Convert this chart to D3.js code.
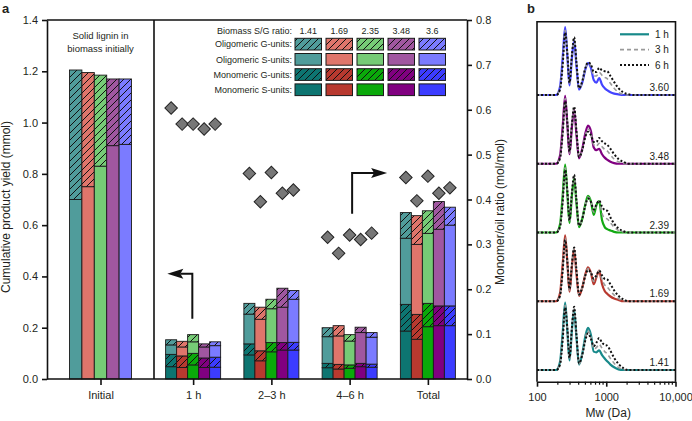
<!DOCTYPE html>
<html><head><meta charset="utf-8">
<script src="https://cdn.jsdelivr.net/npm/d3@7"></script>
<style>
body{margin:0;background:#fff}
svg{display:block}
text{font-family:"Liberation Sans",Arial,Helvetica,sans-serif;fill:#231f20}
</style>
</head><body>
<svg id="c" width="692" height="421"></svg>
<script>
// ---------------- DATA (panel a) ----------------
const groups = ["1 h", "2–3 h", "4–6 h", "Total"];
const sgRatios = ["1.41", "1.69", "2.35", "3.48", "3.6"];
const legendRows = ["Oligomeric G-units:", "Oligomeric S-units:", "Monomeric G-units:", "Monomeric S-units:"];
const lightColors = ["#509c9b", "#df756b", "#76cb76", "#a057a0", "#7b7bff"];
const darkColors  = ["#0d7571", "#b8392f", "#0aa90a", "#800080", "#3c3cff"];
// Initial solid lignin (mmol): S-units (solid) and G-units (hatched)
const initialS = [0.700, 0.750, 0.830, 0.910, 0.915];
const initialG = [0.505, 0.445, 0.355, 0.260, 0.255];
// per group (1 h, 2–3 h, 4–6 h, Total), per S/G sample
const monoS = [
  [0.048, 0.045, 0.055, 0.045, 0.046],
  [0.094, 0.071, 0.106, 0.113, 0.113],
  [0.044, 0.039, 0.042, 0.048, 0.046],
  [0.187, 0.155, 0.204, 0.208, 0.208]
];
const monoG = [
  [0.048, 0.045, 0.045, 0.037, 0.039],
  [0.043, 0.039, 0.036, 0.029, 0.030],
  [0.017, 0.018, 0.013, 0.013, 0.012],
  [0.104, 0.097, 0.091, 0.077, 0.077]
];
const oligoS = [
  [0.037, 0.035, 0.045, 0.043, 0.045],
  [0.116, 0.123, 0.132, 0.138, 0.168],
  [0.104, 0.111, 0.093, 0.120, 0.105],
  [0.258, 0.273, 0.273, 0.299, 0.315]
];
const oligoG = [
  [0.020, 0.022, 0.028, 0.012, 0.015],
  [0.042, 0.047, 0.037, 0.074, 0.034],
  [0.035, 0.040, 0.025, 0.021, 0.018],
  [0.100, 0.112, 0.088, 0.108, 0.070]
];
const monomerOilRatio = [
  [0.604, 0.568, 0.568, 0.557, 0.568],
  [0.458, 0.395, 0.460, 0.414, 0.421],
  [0.316, 0.280, 0.321, 0.311, 0.325],
  [0.449, 0.397, 0.452, 0.414, 0.426]
];
const yLeftTicks = [0, 0.2, 0.4, 0.6, 0.8, 1.0, 1.2, 1.4];
const yRightTicks = [0, 0.1, 0.2, 0.3, 0.4, 0.5, 0.6, 0.7, 0.8];

// ---------------- DATA (panel b) ----------------
const gpcLabels = ["1.41", "1.69", "2.39", "3.48", "3.60"];   // bottom to top
const gpcColors = ["#17898a", "#b8392f", "#14a914", "#800080", "#4444ff"];
const timeLabels = ["1 h", "3 h", "6 h"];
const mwTicks = [100, 1000, 10000];
const mwMinor = [200,300,400,500,600,700,800,900,2000,3000,4000,5000,6000,7000,8000,9000];
const mw = [100,190,215,235,255,275,295,320,344,370,405,450,500,545,600,660,720,790,870,950,1030,1150,1300,1500,1750,2100,2600,10000];
const gpc1h = [
  [0,0,12,55,99,55,14,60,88,50,8,24,50,62,52,27,26,29,22,17,13,8,4,1,0,0,0,0],
  [0,0,12,55,97,55,14,52,76,42,8,20,40,50,42,25,35,45,25,15,11,7,4,2,0,0,0,0],
  [0,0,12,55,100,55,14,55,80,45,8,20,42,54,46,26,40,46,18,8,5,3,1,0,0,0,0,0],
  [0,0,12,55,100,55,14,55,80,45,8,22,45,56,48,24,20,22,14,9,6,3,1,0,0,0,0,0],
  [0,0,12,55,100,55,14,55,80,45,8,18,38,47,40,22,18,25,15,10,7,4,2,1,0,0,0,0]
];
const gpc3h = [
  [0,0,10,50,95,58,16,62,90,52,9,23,47,58,49,31,33,38,32,27,24,17,10,4,1,0,0,0],
  [0,0,10,50,93,56,16,54,78,45,9,20,39,48,42,29,36,45,32,24,21,15,9,4,1,0,0,0],
  [0,0,10,50,95,58,16,58,83,48,9,20,41,52,46,30,40,46,28,21,20,14,8,3,1,0,0,0],
  [0,0,10,50,96,58,16,58,82,48,9,21,42,51,45,28,26,30,25,21,19,13,7,3,1,0,0,0],
  [0,0,10,50,95,58,16,58,83,48,9,19,39,48,43,28,28,33,29,26,24,17,10,4,1,0,0,0]
];
const gpc6h = [
  [0,0,8,45,92,60,18,64,93,54,10,22,44,54,46,35,40,47,40,37,36,28,18,9,3,0,0,0],
  [0,0,8,45,90,58,18,56,79,48,10,20,38,46,42,33,38,45,38,33,32,25,16,8,3,0,0,0],
  [0,0,8,45,92,60,18,60,85,50,10,20,40,50,45,34,41,47,38,33,32,22,13,6,2,0,0,0],
  [0,0,8,45,92,60,18,60,84,50,10,20,40,47,42,32,32,38,33,30,28,22,14,7,3,0,0,0],
  [0,0,8,45,92,60,18,60,85,50,10,20,40,48,45,34,34,40,36,35,35,28,19,10,4,1,0,0]
];

// ---------------- DRAW ----------------
const svg = d3.select("#c");
const defs = svg.append("defs");
function hatch(id, color) {
  const p = defs.append("pattern").attr("id", id)
    .attr("patternUnits", "userSpaceOnUse").attr("width", 7).attr("height", 7);
  p.append("rect").attr("width", 7).attr("height", 7).attr("fill", color);
  p.append("path").attr("d", "M-1,1 l2,-2 M0,7 l7,-7 M6,8 l2,-2")
    .attr("stroke", "#111").attr("stroke-width", 1);
}
lightColors.forEach((c, i) => hatch("hL" + i, c));
darkColors.forEach((c, i) => hatch("hD" + i, c));

const L = 47, R = 467, T = 20, B = 379, DIV = 154;
const yL = d3.scaleLinear().domain([0, 1.4]).range([B, T]);
const yR = d3.scaleLinear().domain([0, 0.8]).range([B, T]);
const xInit = d3.scalePoint().domain(["Initial"]).range([L, DIV]).padding(0.5);
const xGrp = d3.scalePoint().domain(groups).range([DIV, R]).padding(0.5);
const xInitSub = d3.scaleBand().domain(d3.range(5)).range([-31, 31]);
const xSub = d3.scaleBand().domain(d3.range(5)).range([-27.5, 27.5]);

const gA = svg.append("g");
const strokeC = "#1a1a1a";

// Initial bars
const gInit = gA.append("g");
d3.range(5).forEach(i => {
  const x = xInit("Initial") + xInitSub(i), w = xInitSub.bandwidth();
  gInit.append("rect").attr("x", x).attr("width", w)
    .attr("y", yL(initialS[i])).attr("height", yL(0) - yL(initialS[i]))
    .attr("fill", lightColors[i]).attr("stroke", strokeC).attr("stroke-width", 0.9);
  gInit.append("rect").attr("x", x).attr("width", w)
    .attr("y", yL(initialS[i] + initialG[i])).attr("height", yL(initialS[i]) - yL(initialS[i] + initialG[i]))
    .attr("fill", `url(#hL${i})`).attr("stroke", strokeC).attr("stroke-width", 0.9);
});

// time-group stacked bars
const keys = ["monoS", "monoG", "oligoS", "oligoG"];
const rows = [];
groups.forEach((g, gi) => d3.range(5).forEach(i => rows.push({
  g, i, monoS: monoS[gi][i], monoG: monoG[gi][i], oligoS: oligoS[gi][i], oligoG: oligoG[gi][i]
})));
const stacked = d3.stack().keys(keys)(rows);
const fillFor = (k, i) => k === "monoS" ? darkColors[i] : k === "monoG" ? `url(#hD${i})`
  : k === "oligoS" ? lightColors[i] : `url(#hL${i})`;
const gBars = gA.append("g");
stacked.forEach(layer => {
  gBars.selectAll(null).data(layer).join("rect")
    .attr("x", d => xGrp(d.data.g) + xSub(d.data.i))
    .attr("width", xSub.bandwidth())
    .attr("y", d => yL(d[1]))
    .attr("height", d => yL(d[0]) - yL(d[1]))
    .attr("fill", d => fillFor(layer.key, d.data.i))
    .attr("stroke", strokeC).attr("stroke-width", 0.9);
});

// diamonds (right axis)
const diamond = d3.symbol(d3.symbolSquare, 78);
const dPts = [];
groups.forEach((g, gi) => d3.range(5).forEach(i => dPts.push({ g, i, v: monomerOilRatio[gi][i] })));
gA.append("g").selectAll("path").data(dPts).join("path")
  .attr("d", diamond)
  .attr("transform", d => `translate(${xGrp(d.g) + xSub(d.i) + xSub.bandwidth() / 2},${yR(d.v)}) rotate(45)`)
  .attr("fill", "#777").attr("stroke", "#222").attr("stroke-width", 1);

// arrows
function arrow(x0, yBottom, yTop, dir, len) {
  const g = gA.append("g");
  const tip = x0 + dir * len, base = tip - dir * 16;
  g.append("path").attr("d", `M${x0},${yBottom}V${yTop}H${base + dir * 3}`)
    .attr("fill", "none").attr("stroke", "#111").attr("stroke-width", 2);
  g.append("path").attr("d", `M${tip},${yTop}L${base},${yTop - 5}L${base + dir * 3},${yTop}L${base},${yTop + 5}Z`)
    .attr("fill", "#111");
}
arrow(xGrp("1 h") - 0.8, yL(0.235), yL(0.41), -1, 25);
arrow(xGrp("4–6 h") + 2.5, yR(0.368), yR(0.459), 1, 35);

// frame
gA.append("path").attr("d", `M${L},${T}H${R}M${DIV},${T}V${B}M${L},${B}H${R}`)
  .attr("stroke", "#111").attr("stroke-width", 1.6).attr("fill", "none");

// axes
const axL = gA.append("g").attr("transform", `translate(${L},0)`)
  .call(d3.axisLeft(yL).tickValues(yLeftTicks).tickFormat(d3.format(".1f")).tickSize(5).tickPadding(4).tickSizeOuter(0));
const axR = gA.append("g").attr("transform", `translate(${R},0)`)
  .call(d3.axisRight(yR).tickValues(yRightTicks).tickFormat(d3.format(".1f")).tickSize(5).tickPadding(4).tickSizeOuter(0));
const allCats = ["Initial"].concat(groups);
const xAll = d3.scaleOrdinal().domain(allCats).range(allCats.map(c => c === "Initial" ? xInit(c) : xGrp(c)));
const axB = gA.append("g").attr("transform", `translate(0,${B})`)
  .call(d3.axisBottom(xAll).tickSize(6).tickPadding(6));
axB.select(".domain").remove();
[axL, axR, axB].forEach(a => {
  a.selectAll(".domain").attr("stroke", "#111").attr("stroke-width", 1.6);
  a.selectAll(".tick line").attr("stroke", "#111").attr("stroke-width", 1.6);
  a.selectAll("text").attr("font-size", 11).attr("fill", "#231f20")
    .attr("font-family", '"Liberation Sans",Arial,sans-serif');
});

// axis titles
gA.append("text").attr("transform", "translate(10,207) rotate(-90)").attr("text-anchor", "middle")
  .attr("font-size", 12).text("Cumulative product yield (mmol)");
gA.append("text").attr("transform", "translate(504,212) rotate(-90)").attr("text-anchor", "middle")
  .attr("font-size", 12).text("Monomer/oil ratio (mol/mol)");

// initial note
gA.append("text").attr("x", xInit("Initial")).attr("y", 39).attr("text-anchor", "middle")
  .attr("font-size", 9.5).text("Solid lignin in");
gA.append("text").attr("x", xInit("Initial")).attr("y", 52).attr("text-anchor", "middle")
  .attr("font-size", 9.5).text("biomass initially");

// legend
const lx = d3.scaleBand().domain(d3.range(5)).range([295, 445.5]).paddingInner(0.145);
const ly = d3.scaleBand().domain(d3.range(4)).range([38.3, 95.6]).paddingInner(0.23);
const gLeg = gA.append("g");
gLeg.append("text").attr("x", 292).attr("y", 34).attr("text-anchor", "end").attr("font-size", 9).text("Biomass S/G ratio:");
sgRatios.forEach((s, i) => gLeg.append("text").attr("x", lx(i) + lx.bandwidth() / 2).attr("y", 34)
  .attr("text-anchor", "middle").attr("font-size", 9).text(s));
const legKeys = ["oligoG", "oligoS", "monoG", "monoS"];
legendRows.forEach((lab, r) => {
  gLeg.append("text").attr("x", 292).attr("y", ly(r) + ly.bandwidth() / 2 + 3.2)
    .attr("text-anchor", "end").attr("font-size", 9).text(lab);
  d3.range(5).forEach(i => gLeg.append("rect").attr("x", lx(i)).attr("y", ly(r))
    .attr("width", lx.bandwidth()).attr("height", ly.bandwidth())
    .attr("fill", fillFor(legKeys[r], i)).attr("stroke", strokeC).attr("stroke-width", 1));
});

// panel letters
svg.append("text").attr("x", 2).attr("y", 13).attr("font-size", 13).attr("font-weight", "bold").text("a");
svg.append("text").attr("x", 527).attr("y", 13).attr("font-size", 13).attr("font-weight", "bold").text("b");

// ---------------- panel b ----------------
const BL = 537, BR = 675.5, BT = 21.7, BB = 381.7;
const xB = d3.scaleLog().domain([100, 10000]).range([BL, BR]);
const yBase = d3.scaleLinear().domain([0, 4]).range([370, 95]);
const yInt = d3.scaleLinear().domain([0, 100]).range([0, 68]);
const gB = svg.append("g");
const clip = defs.append("clipPath").attr("id", "clipB");
clip.append("rect").attr("x", BL).attr("y", BT).attr("width", BR - BL).attr("height", BB - BT);
const gCurves = gB.append("g").attr("clip-path", "url(#clipB)");
gpcLabels.forEach((lab, s) => {
  const base = yBase(s);
  const line = d3.line().x((d, j) => xB(mw[j])).y(d => base - yInt(d)).curve(d3.curveMonotoneX);
  gCurves.append("path").attr("d", line(gpc1h[s])).attr("fill", "none")
    .attr("stroke", gpcColors[s]).attr("stroke-width", 2.2);
  gCurves.append("path").attr("d", line(gpc3h[s])).attr("fill", "none")
    .attr("stroke", "#9a9a9a").attr("stroke-width", 1.6).attr("stroke-dasharray", "4,3");
  gCurves.append("path").attr("d", line(gpc6h[s])).attr("fill", "none")
    .attr("stroke", "#111").attr("stroke-width", 2).attr("stroke-dasharray", "2,2");
  gB.append("text").attr("x", 669).attr("y", base - 4).attr("text-anchor", "end")
    .attr("font-size", 10).text(lab);
});
gB.append("path").attr("d", `M${BL},${BB}V${BT}H${BR}V${BB}`).attr("fill", "none")
  .attr("stroke", "#111").attr("stroke-width", 1.6);
const axBB = gB.append("g").attr("transform", `translate(0,${BB})`)
  .call(d3.axisBottom(xB).tickValues(mwTicks).tickFormat(d => d === 10000 ? "10,000" : String(d))
    .tickSize(5).tickPadding(7).tickSizeOuter(0));
axBB.selectAll(".domain").attr("stroke", "#111").attr("stroke-width", 1.6);
axBB.selectAll(".tick line").attr("stroke", "#111").attr("stroke-width", 1.6);
axBB.selectAll("text").attr("font-size", 11).attr("fill", "#231f20")
  .attr("font-family", '"Liberation Sans",Arial,sans-serif');
gB.append("g").selectAll("line").data(mwMinor).join("line")
  .attr("x1", d => xB(d)).attr("x2", d => xB(d)).attr("y1", BB).attr("y2", BB + 3)
  .attr("stroke", "#111").attr("stroke-width", 1.2);
gB.append("text").attr("x", xB(1000) + 2).attr("y", 417).attr("text-anchor", "middle")
  .attr("font-size", 12).text("Mw (Da)");
// panel b legend
const legY = d3.scalePoint().domain(timeLabels).range([34.3, 65]);
const legStyles = [
  { c: gpcColors[0], w: 2.2, dash: null },
  { c: "#9a9a9a", w: 1.6, dash: "4,3" },
  { c: "#111", w: 2, dash: "2,2" }
];
timeLabels.forEach((t, k) => {
  const st = legStyles[k];
  gB.append("line").attr("x1", 620).attr("x2", 649).attr("y1", legY(t)).attr("y2", legY(t))
    .attr("stroke", st.c).attr("stroke-width", st.w).attr("stroke-dasharray", st.dash);
  gB.append("text").attr("x", 655).attr("y", legY(t) + 3.5).attr("font-size", 10).text(t);
});
</script>
</body></html>
